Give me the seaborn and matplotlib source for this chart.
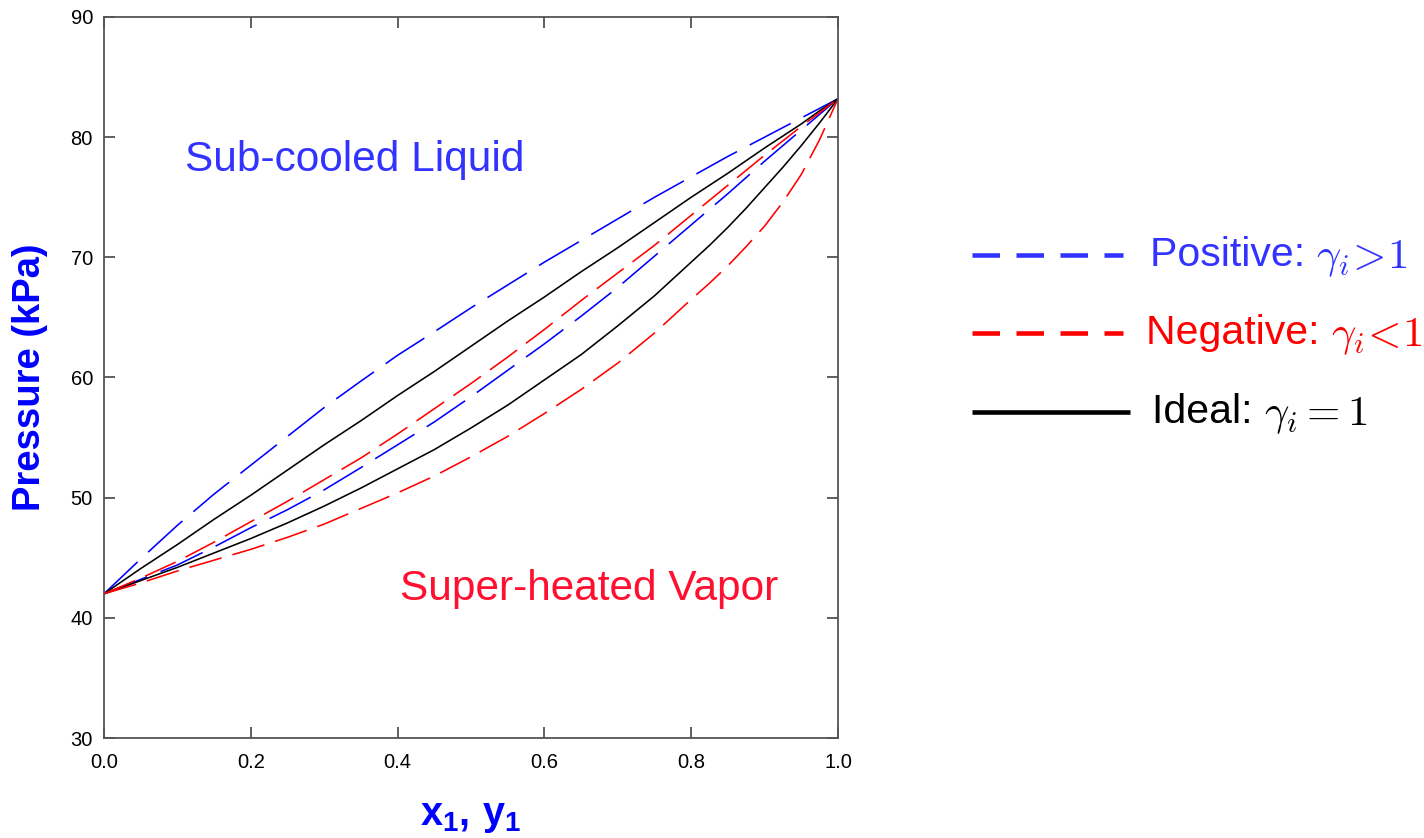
import matplotlib
matplotlib.use("Agg")
import matplotlib.pyplot as plt
from matplotlib.lines import Line2D
import seaborn as sns
import pandas as pd

# ---- data ----
x1 = [0.0, 0.05, 0.1, 0.15, 0.2, 0.25, 0.3, 0.35, 0.4, 0.45, 0.5,
      0.55, 0.6, 0.65, 0.7, 0.75, 0.8, 0.825, 0.85, 0.875, 0.9, 0.925, 0.95, 0.975, 1.0]
pos_bubble = [42.0, 44.9, 47.7, 50.3, 52.7, 55.1, 57.5, 59.7, 61.85, 63.8, 65.8,
              67.7, 69.6, 71.4, 73.2, 75.0, 76.7, 77.55, 78.4, 79.2, 80.0, 80.8, 81.6, 82.4, 83.2]
pos_dew = [42.0, 43.2, 44.4, 45.9, 47.5, 49.0, 50.65, 52.5, 54.4, 56.3, 58.4,
           60.6, 62.8, 65.1, 67.5, 70.1, 72.7, 74.0, 75.3, 76.65, 78.0, 79.3, 80.6, 81.9, 83.2]
ideal_bubble = [42.0, 44.1, 46.1, 48.2, 50.2, 52.3, 54.4, 56.4, 58.5, 60.5, 62.6,
                64.7, 66.7, 68.8, 70.8, 72.9, 75.0, 76.0, 77.0, 78.05, 79.1, 80.1, 81.1, 82.2, 83.2]
ideal_dew = [42.0, 43.1, 44.2, 45.4, 46.6, 47.9, 49.3, 50.8, 52.4, 54.0, 55.8,
             57.7, 59.8, 61.9, 64.3, 66.8, 69.6, 71.0, 72.5, 74.1, 75.8, 77.5, 79.3, 81.2, 83.2]
neg_bubble = [42.0, 43.3, 44.7, 46.3, 48.0, 49.7, 51.5, 53.3, 55.3, 57.4, 59.5,
              61.7, 64.0, 66.4, 68.7, 71.0, 73.5, 74.75, 76.0, 77.25, 78.5, 79.7, 80.9, 82.05, 83.2]
neg_dew = [42.0, 42.9, 43.9, 44.8, 45.7, 46.7, 47.8, 49.1, 50.4, 51.8, 53.4,
           55.1, 57.0, 59.0, 61.2, 63.7, 66.5, 67.85, 69.3, 70.9, 72.6, 74.6, 76.9, 79.8, 83.2]

xticks = [0.0, 0.2, 0.4, 0.6, 0.8, 1.0]
xticklabels = ["0.0", "0.2", "0.4", "0.6", "0.8", "1.0"]
yticks = [30, 40, 50, 60, 70, 80, 90]
yticklabels = ["30", "40", "50", "60", "70", "80", "90"]

sns.set_style("white")
plt.rcParams['font.family'] = ['Liberation Sans', 'DejaVu Sans']
plt.rcParams['mathtext.fontset'] = 'custom'
plt.rcParams['mathtext.rm'] = 'Liberation Sans'
plt.rcParams['mathtext.bf'] = 'Liberation Sans:bold'
plt.rcParams['mathtext.it'] = 'Liberation Sans:italic'

fig = plt.figure(figsize=(14.24, 8.38), dpi=100)
ax = fig.add_axes([104/1424, 1-738/838, 734/1424, 721/838])

series = [
    ("pos_bubble", pos_bubble, "#0000FF", (29, 9)),
    ("pos_dew", pos_dew, "#0000FF", (29, 9)),
    ("ideal_bubble", ideal_bubble, "#000000", None),
    ("ideal_dew", ideal_dew, "#000000", None),
    ("neg_bubble", neg_bubble, "#FF0000", (21, 7)),
    ("neg_dew", neg_dew, "#FF0000", (21, 7)),
]
for name, vals, col, dash in series:
    df = pd.DataFrame({"x": x1, "P": vals})
    sns.lineplot(data=df, x="x", y="P", ax=ax, sort=False, color=col, linewidth=1.15)
    ln = ax.lines[-1]
    if dash is not None:
        ln.set_dashes(dash)

ax.set_xlim(0, 1)
ax.set_ylim(30, 90)
ax.set_xticks(xticks)
ax.set_xticklabels(xticklabels)
ax.set_yticks(yticks)
ax.set_yticklabels(yticklabels)
ax.tick_params(axis="both", direction="in", length=8, width=1.2, color="#444444",
               top=True, right=True, bottom=True, left=True,
               labelsize=14.5, labelcolor="black")
ax.tick_params(axis="x", pad=11)
ax.tick_params(axis="y", pad=8)
for s in ax.spines.values():
    s.set_color("#555555")
    s.set_linewidth(1.3)

ax.set_xlabel(r"$\mathbf{x_1,\,y_1}$", fontsize=28.5, color="#0000FF", labelpad=18)
ax.set_ylabel("Pressure (kPa)", fontsize=27.5, fontweight="bold", color="#0000FF", labelpad=16)

ax.text(0.11, 78.1, "Sub-cooled Liquid", fontsize=30.5, color="#3333FF",
        ha="left", va="center")
ax.text(0.403, 42.4, "Super-heated Vapor", fontsize=30.5, color="#FF1030",
        ha="left", va="center")

# legend drawn on the figure
leg = [
    (255, 1123, "#3333FF", (6, 3.6), "Positive: ", r"$\gamma_i\!>\!1$", 1150),
    (333, 1123, "#FF0000", (6, 3.6), "Negative: ", r"$\gamma_i\!<\!1$", 1146),
    (412, 1130, "#000000", None, "Ideal: ", r"$\gamma_i = 1$", 1152),
]
for ypx, xend, col, dash, lab, mlab, xt in leg:
    yf = 1 - ypx/838
    ln = Line2D([972/1424, xend/1424], [yf, yf], transform=fig.transFigure,
                color=col, linewidth=3.3, solid_capstyle="butt", dash_capstyle="butt")
    if dash is not None:
        ln.set_dashes(dash)
    fig.add_artist(ln)
    t = fig.text(xt/1424, yf, lab, fontsize=29.5, color=col, ha="left", va="center")
    fig.canvas.draw()
    bb = t.get_window_extent()
    fig.text(bb.x1/1424, yf - 0.004, mlab, fontsize=31, color=col, ha="left",
             va="center", math_fontfamily="cm")

fig.savefig("out.png", dpi=100)
